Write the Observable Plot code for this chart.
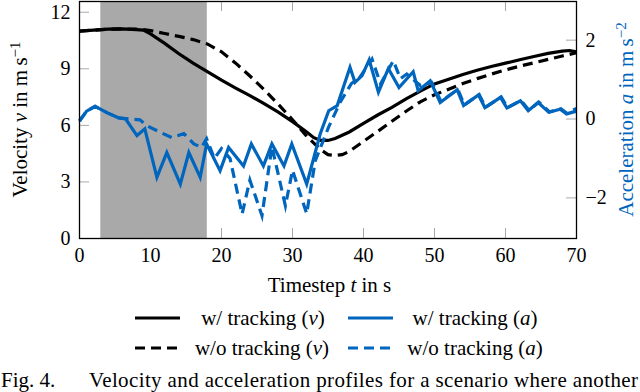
<!DOCTYPE html>
<html><head><meta charset="utf-8">
<script src="https://cdn.jsdelivr.net/npm/d3@7"></script>
<script src="https://cdn.jsdelivr.net/npm/@observablehq/plot@0.6"></script>
<style>
html,body{margin:0;padding:0;background:#fff;overflow:hidden;width:640px;height:392px;}
svg{display:block}
svg text{font-family:"Liberation Serif","DejaVu Serif",serif !important;}
</style></head><body><div id="chart"></div><script>
// ---- data ----
const xTicks = [0, 10, 20, 30, 40, 50, 60, 70];
const vTicks = [0, 3, 6, 9, 12];
const aTicks = [-2, 0, 2];
const xDomain = [0, 70];
const vDomain = [0, 12.57];
const aDomain = [-3.03, 2.98];
const shade = [{t1: 3, t2: 18}];

const vTrackT = [0,2,4,6,8,9,10,12,14,15,16,17,18,20,22,24,26,28,30,32,33,34,35,36,38,40,42,44,46,48,50,52,54,56,58,60,62,64,66,68,69,70];
const vTrack  = [11.0,11.05,11.1,11.12,11.08,11.05,10.85,10.35,9.8,9.55,9.3,9.08,8.85,8.4,7.98,7.58,7.15,6.7,6.2,5.65,5.35,5.2,5.2,5.3,5.65,6.1,6.55,6.95,7.4,7.82,8.2,8.45,8.7,8.92,9.12,9.3,9.48,9.65,9.82,9.94,9.97,9.9];

const vNoTrackT = [0,2,4,6,8,9,10,12,14,16,18,20,22,24,26,28,30,32,34,35,36,37,38,40,42,44,46,48,50,52,54,56,58,60,62,64,66,68,70];
const vNoTrack  = [11.0,11.05,11.1,11.12,11.1,11.08,11.03,10.87,10.72,10.55,10.32,9.9,9.3,8.62,7.9,7.12,6.3,5.42,4.7,4.45,4.4,4.45,4.62,5.15,5.68,6.22,6.75,7.25,7.62,7.92,8.22,8.48,8.72,8.94,9.14,9.32,9.5,9.68,9.85];

const aTrackT = [0,1,2.2,4,5.5,6.5,8.1,9.2,10.9,12.3,14.2,15.4,17,17.9,19.8,21,23.1,24.2,25.9,27.1,28.8,29.9,32,33.9,35.1,36.3,38.1,38.8,39.8,40.8,42.1,43.5,45,47,47.7,49.4,50.8,53.2,54.1,56.2,57.1,59.3,60.2,62.1,63.2,64.6,66.1,67.7,68.6,70];
const aTrack  = [-0.05,0.2,0.32,0.15,0.03,0.0,-0.42,-0.25,-1.48,-0.85,-1.65,-0.85,-1.48,-0.63,-1.31,-0.72,-1.19,-0.63,-1.19,-0.63,-1.19,-0.63,-1.65,-0.38,0.21,0.34,1.31,0.93,1.1,1.5,0.68,1.28,0.8,1.2,0.72,0.97,0.42,0.74,0.34,0.61,0.29,0.55,0.28,0.46,0.21,0.42,0.17,0.25,0.13,0.2];

const aNoTrackT = [0,1,2.2,4,5.5,7,8.5,9.5,11.4,13,14.7,16.1,17.2,17.9,19,20,21.2,22.9,24.0,25.7,27.1,29.0,30.0,32.0,33.2,35.1,36.7,38.3,39.5,41.2,42.4,44.2,45.2,46.1,48,49.6,50.9,53.3,54.2,56.3,57.2,59.4,60.3,62.2,63.3,64.7,66.2,67.8,68.6,70];
const aNoTrack  = [-0.05,0.2,0.32,0.15,0.03,0.0,-0.02,-0.17,-0.34,-0.47,-0.37,-0.63,-0.72,-0.5,-1.0,-0.75,-1.0,-2.41,-1.55,-2.45,-0.7,-2.2,-1.3,-2.4,-1.06,-0.2,0.42,0.9,1.06,1.52,0.89,1.48,1.02,1.14,0.85,0.93,0.45,0.75,0.36,0.62,0.3,0.56,0.29,0.47,0.22,0.43,0.18,0.26,0.15,0.27];

const legendLabels = ["w/ tracking", "w/o tracking"];

// ---- build ----
const blue = "#0065BD";
const tickGray = "#a8a8a8";
const font = "Liberation Serif, DejaVu Serif, serif";
const vFromA = d3.scaleLinear().domain(aDomain).range(vDomain);
const rows = (T, Y) => T.map((t, i) => ({t, y: Y[i]}));

const W = 640, H = 300, mL = 79, mR = 64, mT = 1, mB = 62;
const plotW = W - mL - mR, plotH = H - mT - mB;
const TL = 10;
const lineOpts = {x: "t", strokeWidth: 3.2, strokeLinejoin: "miter", strokeLinecap: "butt", strokeMiterlimit: 10};

const chart = Plot.plot({
  width: W, height: H, marginLeft: mL, marginRight: mR, marginTop: mT, marginBottom: mB,
  style: {fontFamily: font, fontSize: "20px", background: "white", overflow: "visible", color: "black"},
  x: {domain: xDomain},
  y: {domain: vDomain},
  marks: [
    Plot.rect(shade, {x1: "t1", x2: "t2", y1: vDomain[0], y2: vDomain[1], fill: "#a9a9a9"}),
    Plot.tickX(xTicks, {x: d => d, stroke: tickGray, insetTop: plotH - TL}),
    Plot.tickX(xTicks, {x: d => d, stroke: tickGray, insetBottom: plotH - TL}),
    Plot.tickY(vTicks, {y: d => d, stroke: tickGray, insetRight: plotW - TL}),
    Plot.tickY(aTicks, {y: d => vFromA(d), stroke: tickGray, insetLeft: plotW - TL}),
    Plot.line(rows(vTrackT, vTrack), {...lineOpts, y: "y", stroke: "black"}),
    Plot.line(rows(vNoTrackT, vNoTrack), {...lineOpts, y: "y", stroke: "black", strokeDasharray: "10,6"}),
    Plot.line(rows(aTrackT, aTrack), {...lineOpts, y: d => vFromA(d.y), stroke: blue}),
    Plot.line(rows(aNoTrackT, aNoTrack), {...lineOpts, y: d => vFromA(d.y), stroke: blue, strokeDasharray: "10,6"}),
    Plot.frame({stroke: "black", strokeWidth: 1.3}),
    Plot.axisX(xTicks, {tickSize: 0, tickPadding: 9, label: null, fontSize: 20}),
    Plot.axisY(vTicks, {tickSize: 0, tickPadding: 9, label: null, fontSize: 20}),
    Plot.axisY(aTicks.map(a => vFromA(a)), {anchor: "right", tickSize: 0, tickPadding: 9, label: null, fontSize: 20,
      tickFormat: v => { const a = Math.round(vFromA.invert(v)); return a < 0 ? "\u2212" + (-a) : String(a); }})
  ]
});
document.getElementById("chart").appendChild(chart);

const svg = d3.select(chart);
function addLabel(sel, x, y, rot, parts, fill, anchor = "middle") {
  const t = sel.append("text")
    .attr("transform", `translate(${x},${y}) rotate(${rot})`)
    .attr("y", 7)
    .attr("text-anchor", anchor)
    .attr("fill", fill)
    .attr("font-size", 21);
  parts.forEach(p => {
    const s = t.append("tspan").text(p.text);
    if (p.italic) s.attr("font-style", "italic");
    if (p.sup) s.attr("font-size", 15).attr("dy", "-0.5em");
  });
  return t;
}
addLabel(svg, 20, (mT + H - mB) / 2, -90,
  [{text: "Velocity "}, {text: "v", italic: true}, {text: " in m\u2009s"}, {text: "\u22121", sup: true}], "black");
addLabel(svg, 626, (mT + H - mB) / 2, -90,
  [{text: "Acceleration "}, {text: "a", italic: true}, {text: " in m\u2009s"}, {text: "\u22122", sup: true}], blue);
addLabel(svg, mL + plotW / 2 + 2, 285, 0,
  [{text: "Timestep "}, {text: "t", italic: true}, {text: " in s"}], "black");

// ---- legend + caption (below the plot SVG) ----
const leg = d3.select("#chart").append("svg").attr("width", W).attr("height", 92);
const items = [
  {row: 0, x0: 135, x1: 180, cx: 263, stroke: "black", dash: null, lab: legendLabels[0], v: "v"},
  {row: 0, x0: 348, x1: 393, cx: 475, stroke: blue, dash: null, lab: legendLabels[0], v: "a"},
  {row: 1, x0: 135, x1: 177, cx: 262, stroke: "black", dash: "10,6", lab: legendLabels[1], v: "v"},
  {row: 1, x0: 348, x1: 390, cx: 475, stroke: blue, dash: "10,6", lab: legendLabels[1], v: "a"}
];
items.forEach(it => {
  const y = 18 + it.row * 30;
  leg.append("line").attr("x1", it.x0).attr("x2", it.x1).attr("y1", y).attr("y2", y)
    .attr("stroke", it.stroke).attr("stroke-width", 3.2).attr("stroke-dasharray", it.dash);
  addLabel(leg, it.cx, y, 0, [{text: it.lab + " ("}, {text: it.v, italic: true}, {text: ")"}], "black");
});
leg.append("text").attr("x", 1).attr("y", 87).attr("font-size", 21).text("Fig. 4.").attr("fill", "black");
leg.append("text").attr("x", 89).attr("y", 87).attr("font-size", 21).attr("textLength", 549).attr("lengthAdjust", "spacing")
  .text("Velocity and acceleration profiles for a scenario where another").attr("fill", "black");
</script></body></html>
